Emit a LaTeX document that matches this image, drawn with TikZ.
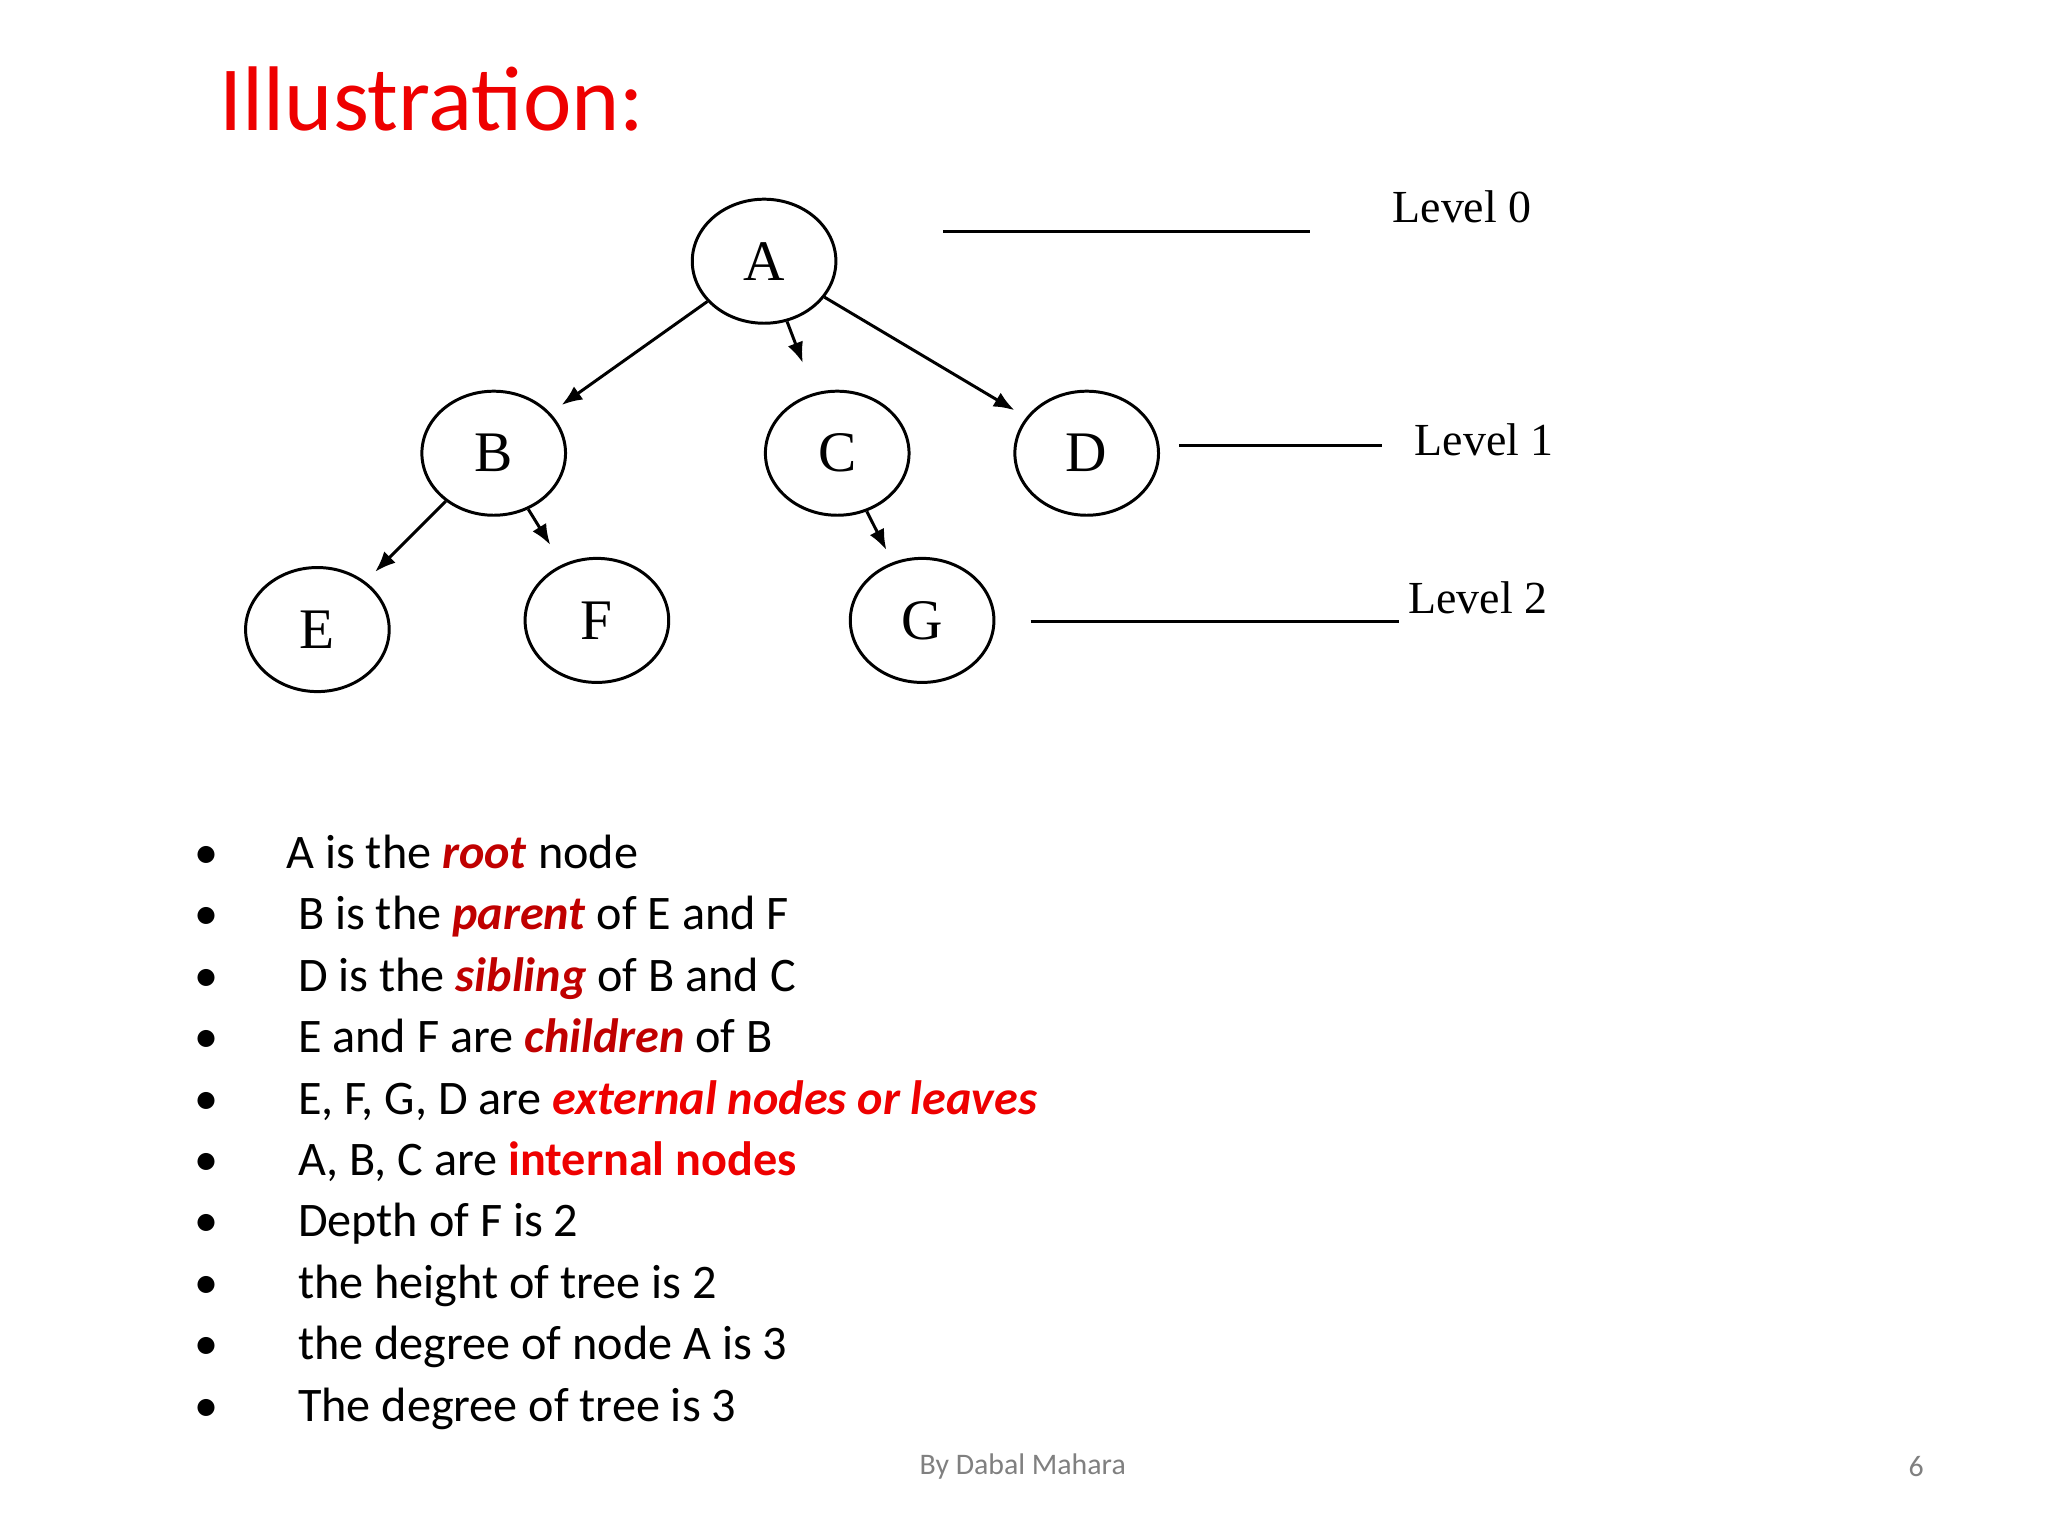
\documentclass[tikz,border=0pt]{standalone}
\usepackage{fontspec}
\setmainfont{Carlito}
\newfontfamily\treefont{Liberation Serif}
\usetikzlibrary{shapes.geometric,arrows.meta}
\definecolor{dred}{HTML}{C00000}
\definecolor{bred}{HTML}{EE0000}
\begin{document}
\begin{tikzpicture}[x=0.02cm,y=-0.02cm,
  tnode/.style={draw,ellipse,line width=1.3pt,minimum width=2.2cm,minimum height=1.9cm,inner sep=0pt,font=\treefont\fontsize{25}{25}\selectfont},
  edge/.style={line width=1.3pt,-{Latex[length=9pt,width=7pt]},shorten >=6pt},
  lvl/.style={line width=1.3pt},
  lvltext/.style={font=\treefont\fontsize{20}{20}\selectfont,anchor=west},
  item/.style={anchor=base west,font=\fontsize{21}{25}\selectfont},
  bul/.style={anchor=base,font=\fontsize{21}{25}\selectfont}]
\useasboundingbox (0,0) rectangle (1568,1176);
\node[anchor=base west,text=bred,font=\fontsize{40}{44}\selectfont] (title) at (162,100) {Illustration:};
\node[tnode] (A) at (585,200) {A};
\node[tnode] (B) at (378,347) {B};
\node[tnode] (C) at (641,347) {C};
\node[tnode] (D) at (832,347) {D};
\node[tnode] (E) at (243,482) {E};
\node[tnode] (F) at (457,475) {F};
\node[tnode] (G) at (706,475) {G};
\draw[edge] (A) -- (B);
\draw[edge,shorten >=14pt] (A) -- (C);
\draw[edge] (A) -- (D);
\draw[edge] (B) -- (E);
\draw[edge,shorten >=10pt] (B) -- (F);
\draw[edge] (C) -- (G);
\coordinate (l0a) at (722,177); \coordinate (l0b) at (1003,177);
\coordinate (l1a) at (903,341); \coordinate (l1b) at (1058,341);
\coordinate (l2a) at (789,476); \coordinate (l2b) at (1071,476);
\draw[lvl] (l0a) -- (l0b);
\draw[lvl] (l1a) -- (l1b);
\draw[lvl] (l2a) -- (l2b);
\node[lvltext] (L0) at (1060,158) {Level 0};
\node[lvltext] (L1) at (1077,337) {Level 1};
\node[lvltext] (L2) at (1072,458) {Level 2};
\foreach \y in {665,712,759,806,853,900,947,994,1041,1088} \node[bul] at (158,\y) {•};
\node[item] (t1) at (213,665) {A is the \textcolor{dred}{\textbf{\textit{root}}} node};
\node[item] (t2) at (222,712) {B is the \textcolor{dred}{\textbf{\textit{parent}}} of E and F};
\node[item] (t3) at (222,759) {D is the \textcolor{dred}{\textbf{\textit{sibling}}} of B and C};
\node[item] (t4) at (222,806) {E and F are \textcolor{dred}{\textbf{\textit{children}}} of B};
\node[item] (t5) at (222,853) {E, F, G, D are \textcolor{bred}{\textbf{\textit{external nodes or leaves}}}};
\node[item] (t6) at (222,900) {A, B, C are \textcolor{bred}{\textbf{internal nodes}}};
\node[item] (t7) at (222,947) {Depth of F is 2};
\node[item] (t8) at (222,994) {the height of tree is 2};
\node[item] (t9) at (222,1041) {the degree of node A is 3};
\node[item] (t10) at (222,1088) {The degree of tree is 3};
\node[text=gray,font=\fontsize{13}{15}\selectfont] (foot) at (783,1123) {By Dabal Mahara};
\node[text=gray,font=\fontsize{13}{15}\selectfont] (pg) at (1467,1123) {6};
\end{tikzpicture}
\end{document}
